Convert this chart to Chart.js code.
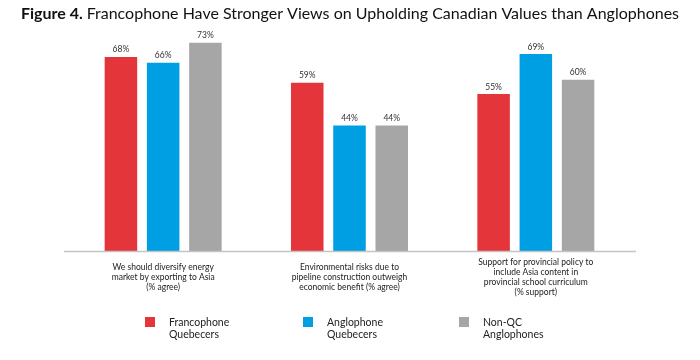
<!DOCTYPE html>
<html>
<head>
<meta charset="utf-8">
<script src="https://cdn.jsdelivr.net/npm/chart.js@4"></script>
<style>
  html, body { margin: 0; padding: 0; background: #fff; }
  #wrap { width: 700px; height: 360px; }
</style>
</head>
<body>
<div id="wrap"><canvas id="valuesChart"></canvas></div>
<script>
const categories = [
  ['We should diversify energy', 'market by exporting to Asia', '(% agree)'],
  ['Environmental risks due to', 'pipeline construction outweigh', 'economic benefit (% agree)'],
  ['Support for provincial policy to', 'include Asia content in', 'provincial school curriculum', '(% support)']
];
const seriesNames = [['Francophone', 'Quebecers'], ['Anglophone', 'Quebecers'], ['Non-QC', 'Anglophones']];
const francophoneQC = [68, 59, 55];
const anglophoneQC = [66, 44, 69];
const nonQCAnglo = [73, 44, 60];
const colors = ['#e4353b', '#009fe3', '#a6a6a6'];

const FONT = 'Lato, "Open Sans", sans-serif';

// title with bold "Figure 4." prefix
const titlePlugin = {
  id: 'titlePlugin',
  afterDraw(chart) {
    const c = chart.ctx;
    const bold = 'bold 16px ' + FONT;
    const norm = '16px ' + FONT;
    const a = 'Figure 4. ';
    const b = 'Francophone Have Stronger Views on Upholding Canadian Values than Anglophones';
    c.save();
    c.font = bold;
    const wa = c.measureText(a).width;
    c.font = norm;
    const wb = c.measureText(b).width;
    let x = 350 - (wa + wb) / 2;
    c.fillStyle = '#111';
    c.textBaseline = 'alphabetic';
    c.textAlign = 'left';
    c.font = bold;
    c.fillText(a, x, 19);
    c.font = norm;
    c.fillText(b, x + wa, 19);
    c.restore();
  }
};

// value labels on bars, baseline, category labels (centred vertically), legend
const extrasPlugin = {
  id: 'extras',
  afterDatasetsDraw(chart) {
    const c = chart.ctx;
    const area = chart.chartArea;
    const xScale = chart.scales.x;
    c.save();
    c.strokeStyle = '#c4c4c4';
    c.lineWidth = 1.5;
    c.beginPath();
    c.moveTo(area.left - 6, area.bottom + 0.5);
    c.lineTo(area.right + 7, area.bottom + 0.5);
    c.stroke();

    c.font = '8.5px ' + FONT;
    c.fillStyle = '#333';
    c.textAlign = 'center';
    c.textBaseline = 'bottom';
    chart.data.datasets.forEach((ds, i) => {
      chart.getDatasetMeta(i).data.forEach((bar, j) => {
        c.fillText(ds.data[j] + '%', bar.x, bar.y - 3);
      });
    });

    c.fillStyle = '#222';
    c.textBaseline = 'middle';
    const mid = area.bottom + 26;
    categories.forEach((lines, j) => {
      const x = xScale.getPixelForValue(j);
      lines.forEach((t, k) => {
        c.fillText(t, x, mid + (k - (lines.length - 1) / 2) * 10);
      });
    });

    // legend
    const legendX = [145, 303, 459];
    c.font = '10.5px ' + FONT;
    c.textAlign = 'left';
    c.textBaseline = 'alphabetic';
    seriesNames.forEach((name, i) => {
      c.fillStyle = colors[i];
      c.fillRect(legendX[i], 317, 10, 10);
      c.fillStyle = '#222';
      c.fillText(name[0], legendX[i] + 24, 326);
      c.fillText(name[1], legendX[i] + 24, 338);
    });
    c.restore();
  }
};

const ctx = document.getElementById('valuesChart').getContext('2d');

new Chart(ctx, {
  type: 'bar',
  data: {
    labels: categories,
    datasets: [
      { label: seriesNames[0].join(' '), data: francophoneQC, backgroundColor: colors[0] },
      { label: seriesNames[1].join(' '), data: anglophoneQC, backgroundColor: colors[1] },
      { label: seriesNames[2].join(' '), data: nonQCAnglo, backgroundColor: colors[2] }
    ]
  },
  options: {
    responsive: true,
    maintainAspectRatio: false,
    animation: false,
    categoryPercentage: 0.68,
    barPercentage: 0.77,
    layout: { padding: { left: 70, right: 71, top: 37, bottom: 109 } },
    plugins: {
      legend: { display: false },
      title: { display: false },
      tooltip: { enabled: false }
    },
    scales: {
      x: {
        display: false
      },
      y: {
        display: false,
        min: 0,
        max: 75
      }
    }
  },
  plugins: [titlePlugin, extrasPlugin]
});
</script>
</body>
</html>
